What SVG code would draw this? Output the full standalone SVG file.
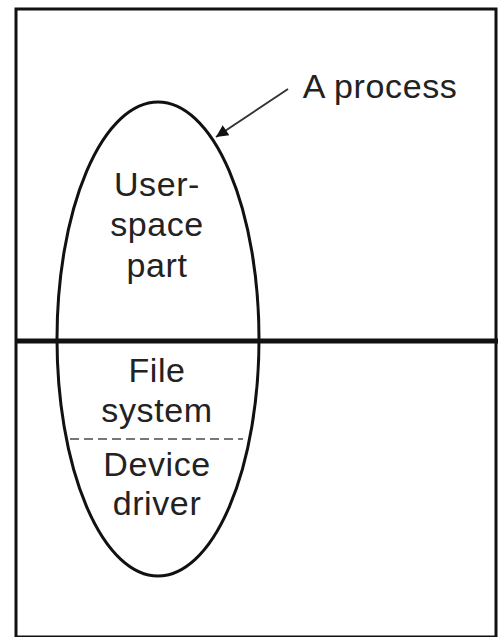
<svg xmlns="http://www.w3.org/2000/svg" width="498" height="637" viewBox="0 0 498 637">
<defs>
<style>
.t{font-family:"Liberation Sans",Arial,sans-serif;font-size:34px;letter-spacing:0.6px;fill:#222;text-anchor:middle}
.ln{stroke:#111;fill:none}
</style>
<marker id="ah2" viewBox="0 0 10 10" refX="10" refY="5" markerWidth="16" markerHeight="12" orient="auto" markerUnits="userSpaceOnUse">
<path d="M0,0 L10,5 L0,10 z" fill="#111"/>
</marker>
</defs>
<rect width="498" height="637" fill="#fff"/>
<g id="frame">
<rect x="16" y="9" width="480" height="628" class="ln" stroke-width="3"/>
<line x1="16" y1="341" x2="498" y2="341" class="ln" stroke-width="5"/>
</g>
<g id="process">
<ellipse cx="158" cy="339" rx="101" ry="237" class="ln" stroke-width="3"/>
<line x1="70" y1="439" x2="243" y2="439" stroke="#777" stroke-width="2" stroke-dasharray="9,5"/>
<text class="t" x="157" y="196">User-</text>
<text class="t" x="157" y="236">space</text>
<text class="t" x="157" y="277">part</text>
<text class="t" x="157" y="382">File</text>
<text class="t" x="157" y="422">system</text>
<text class="t" x="157" y="476">Device</text>
<text class="t" x="157" y="515">driver</text>
</g>
<g id="label">
<text class="t" x="380" y="98">A process</text>
</g>
<g id="connectors">
<line x1="288" y1="89" x2="216" y2="137" stroke="#333" stroke-width="2" marker-end="url(#ah2)"/>
</g>
</svg>
